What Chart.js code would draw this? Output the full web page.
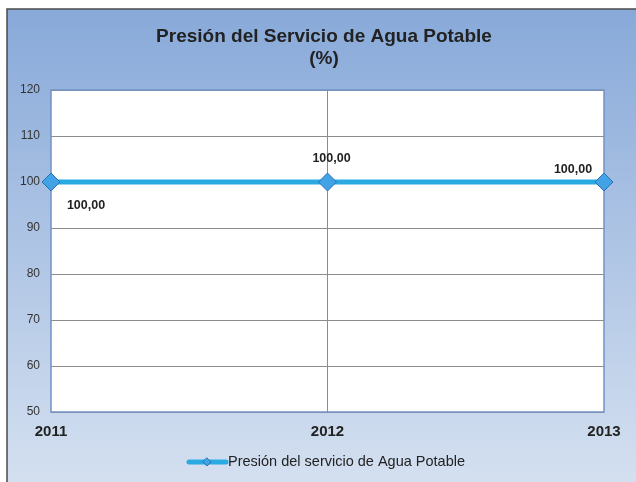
<!DOCTYPE html>
<html>
<head>
<meta charset="utf-8">
<script src="https://cdn.jsdelivr.net/npm/chart.js@4"></script>
<style>
  html, body { margin: 0; padding: 0; background: #fff; overflow: hidden; }
  #wrap { width: 636px; height: 482px; }
  canvas { display: block; }
</style>
</head>
<body>
<div id="wrap"><canvas id="mainChart" width="636" height="482"></canvas></div>
<script>
// Datos del gráfico
const years = ['2011', '2012', '2013'];
const presion = [100, 100, 100];
const yTicks = [50, 60, 70, 80, 90, 100, 110, 120];
const titleLines = ['Presión del Servicio de Agua Potable', '(%)'];
const serieNombre = 'Presión del servicio de Agua Potable';

const FONT = '"Liberation Sans", Arial, sans-serif';
const LINE_COLOR = '#29abe2';

// fondo, marco, título y leyenda
const frame = {
    id: 'frame',
    beforeDraw(chart) {
        const ctx = chart.ctx;
        const a = chart.chartArea;
        ctx.save();
        ctx.fillStyle = '#fff';
        ctx.fillRect(0, 0, chart.width, chart.height);
        const g = ctx.createLinearGradient(0, 9, 0, chart.height);
        g.addColorStop(0, '#88a9d9');
        g.addColorStop(1, '#d4e0f0');
        ctx.fillStyle = g;
        ctx.fillRect(7, 9, chart.width, chart.height);
        ctx.strokeStyle = '#4a4a4a';
        ctx.lineWidth = 1.5;
        ctx.beginPath();
        ctx.moveTo(7, chart.height);
        ctx.lineTo(7, 9);
        ctx.lineTo(chart.width, 9);
        ctx.stroke();
        // área de trazado
        ctx.fillStyle = '#fff';
        ctx.fillRect(a.left, a.top, a.right - a.left, a.bottom - a.top);
        // título
        ctx.fillStyle = '#222';
        ctx.font = 'bold 19px ' + FONT;
        ctx.textAlign = 'center';
        ctx.textBaseline = 'middle';
        ctx.fillText(titleLines[0], 324, 37);
        ctx.fillText(titleLines[1], 324, 59);
        ctx.restore();
    },
    beforeDatasetsDraw(chart) {
        const ctx = chart.ctx;
        const a = chart.chartArea;
        ctx.save();
        ctx.strokeStyle = '#7393c4';
        ctx.lineWidth = 1.5;
        ctx.strokeRect(a.left, a.top, a.right - a.left, a.bottom - a.top);
        ctx.restore();
    },
    afterDraw(chart) {
        const ctx = chart.ctx;
        ctx.save();
        // etiquetas de datos
        const offsets = [[35, 24], [4, -23], [-31, -12]];
        const meta = chart.getDatasetMeta(0);
        ctx.fillStyle = '#222';
        ctx.font = 'bold 12.5px ' + FONT;
        ctx.textAlign = 'center';
        ctx.textBaseline = 'middle';
        meta.data.forEach((pt, i) => {
            const txt = presion[i].toFixed(2).replace('.', ',');
            ctx.fillText(txt, pt.x + offsets[i][0], pt.y + offsets[i][1]);
        });
        // leyenda
        const ly = 462;
        ctx.strokeStyle = LINE_COLOR;
        ctx.lineWidth = 5;
        ctx.lineCap = 'round';
        ctx.beginPath();
        ctx.moveTo(189, ly);
        ctx.lineTo(226, ly);
        ctx.stroke();
        ctx.fillStyle = '#3fa3e6';
        ctx.strokeStyle = '#2f6fb8';
        ctx.lineWidth = 1;
        ctx.beginPath();
        ctx.moveTo(207, ly - 4);
        ctx.lineTo(211, ly);
        ctx.lineTo(207, ly + 4);
        ctx.lineTo(203, ly);
        ctx.closePath();
        ctx.fill();
        ctx.stroke();
        ctx.fillStyle = '#222';
        ctx.font = '14.5px ' + FONT;
        ctx.textAlign = 'left';
        ctx.fillText(serieNombre, 228, ly);
        ctx.restore();
    }
};

let myChart = new Chart(document.getElementById('mainChart').getContext('2d'), {
    type: 'line',
    data: {
        labels: years,
        datasets: [{
            label: serieNombre,
            data: presion,
            borderColor: LINE_COLOR,
            borderWidth: 5,
            pointStyle: 'rectRot',
            pointRadius: 9,
            pointHoverRadius: 9,
            pointBackgroundColor: '#3fa3e6',
            pointBorderColor: '#2f6fb8',
            pointBorderWidth: 1,
            tension: 0,
            fill: false,
            clip: false
        }]
    },
    options: {
        responsive: false,
        animation: false,
        layout: { padding: { top: 90, right: 32, bottom: 40, left: 0 } },
        plugins: { legend: { display: false }, title: { display: false }, tooltip: { enabled: false } },
        scales: {
            x: {
                offset: false,
                grid: {
                    drawTicks: false,
                    color: c => c.index === 1 ? '#8c8c8c' : 'rgba(0,0,0,0)'
                },
                border: { display: false },
                ticks: { color: '#222', padding: 11, font: { family: FONT, size: 15, weight: 'bold' } },
                afterFit: s => { s.height = 30; }
            },
            y: {
                min: yTicks[0],
                max: yTicks[yTicks.length - 1],
                afterBuildTicks: s => { s.ticks = yTicks.map(v => ({ value: v })); },
                grid: { drawTicks: false, color: '#8c8c8c' },
                border: { display: false },
                ticks: { color: '#333', padding: 11, font: { family: FONT, size: 12 } },
                afterFit: s => { s.width = 51; }
            }
        }
    },
    plugins: [frame]
});
</script>
</body>
</html>
